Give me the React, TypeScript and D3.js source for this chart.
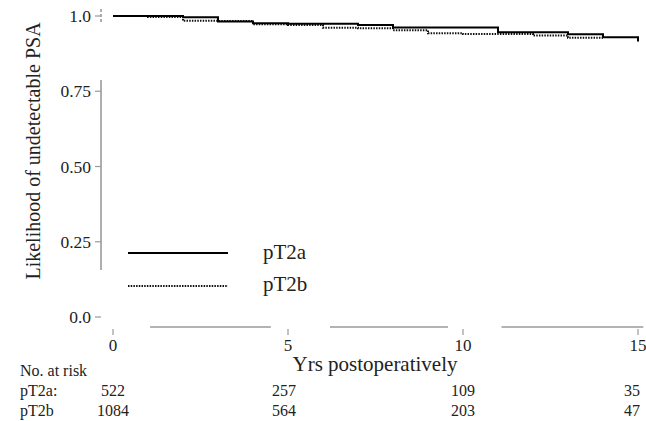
import React from "react";
import * as d3 from "d3";

// Kaplan-Meier style step data (years, likelihood)
const pT2aTimes = [0, 2, 3, 4, 5, 7, 8, 11, 13, 14, 15];
const pT2aValues = [1.0, 0.996, 0.982, 0.976, 0.974, 0.97, 0.962, 0.946, 0.939, 0.929, 0.915];
const pT2bTimes = [0, 1, 2, 3, 4, 5, 6, 7, 8, 9, 10, 12, 13, 14];
const pT2bValues = [1.0, 0.997, 0.984, 0.983, 0.973, 0.97, 0.961, 0.959, 0.953, 0.943, 0.94, 0.935, 0.928, 0.928];

const xTicks = [0, 5, 10, 15];
const yTicks = [0.0, 0.25, 0.5, 0.75, 1.0];
const yTickLabels = ["0.0", "0.25", "0.50", "0.75", "1.0"];

const seriesNames = ["pT2a", "pT2b"];
const riskRowLabels = ["pT2a:", "pT2b"];
const riskT2a = [522, 257, 109, 35];
const riskT2b = [1084, 564, 203, 47];

// broken (scanned) axis segments, in data units
const xAxisSegments: [number, number][] = [[1.06, 4.51], [6.2, 9.57], [11.1, 15.15]];
const yAxisSegments: [number, number][] = [[0.156, 0.787], [0.98, 1.03]];

const W = 646;
const H = 421;
const FONT = '"Liberation Serif", "DejaVu Serif", serif';
const ts = { fontFamily: FONT };

export default function App() {
  const x = d3.scaleLinear().domain([0, 15]).range([113, 638]);
  const y = d3.scaleLinear().domain([0, 1]).range([317, 16]);

  const line = d3
    .line<[number, number]>()
    .x((d) => x(d[0]))
    .y((d) => y(d[1]))
    .curve(d3.curveStepAfter);

  const a: [number, number][] = pT2aTimes.map((t, i) => [t, pT2aValues[i]]);
  const b: [number, number][] = pT2bTimes.map((t, i) => [t, pT2bValues[i]]);

  const axisColor = "#9a9a9a";
  const axisX = 101;
  const axisY = 327;

  return (
    <svg
      width={W}
      height={H}
      style={{ position: "absolute", left: 0, top: 0, background: "#fff", fontFamily: FONT }}
    >
      <rect x={0} y={0} width={W} height={H} fill="#fff" />
      {/* y axis */}
      {yAxisSegments.map(([v0, v1], i) => (
        <line
          key={"ys" + i}
          x1={axisX}
          x2={axisX}
          y1={y(v0)}
          y2={y(v1)}
          stroke={axisColor}
          strokeWidth={1.6}
          strokeDasharray={i === 1 ? "3,2" : undefined}
        />
      ))}
      {yTicks.map((t, i) => (
        <g key={"yt" + i}>
          <line x1={axisX - 6} x2={axisX} y1={y(t)} y2={y(t)} stroke={axisColor} strokeWidth={1.2} />
          <text x={91} y={y(t)} dy="0.35em" textAnchor="end" fontSize={17.5} fill="#222" style={ts}>
            {yTickLabels[i]}
          </text>
        </g>
      ))}
      {/* x axis */}
      {xAxisSegments.map(([v0, v1], i) => (
        <line
          key={"xs" + i}
          x1={x(v0)}
          x2={x(v1)}
          y1={axisY}
          y2={axisY}
          stroke={axisColor}
          strokeWidth={1.6}
        />
      ))}
      {xTicks.map((t, i) => (
        <g key={"xt" + i}>
          <line x1={x(t)} x2={x(t)} y1={axisY + 2} y2={axisY + 8} stroke={axisColor} strokeWidth={1.2} />
          <text x={x(t)} y={351} textAnchor="middle" fontSize={17} fill="#222" style={ts}>
            {t}
          </text>
        </g>
      ))}
      {/* curves */}
      <path d={line(b) || ""} fill="none" stroke="#111" strokeWidth={2} strokeDasharray="1.5,1.2" />
      <path d={line(a) || ""} fill="none" stroke="#000" strokeWidth={2} />
      {/* legend */}
      <line x1={128} x2={228} y1={253} y2={253} stroke="#000" strokeWidth={2} />
      <text x={263} y={259} fontSize={21} fill="#222" style={ts}>
        {seriesNames[0]}
      </text>
      <line x1={128} x2={228} y1={286} y2={286} stroke="#111" strokeWidth={2} strokeDasharray="1.5,1.2" />
      <text x={263} y={291} fontSize={21} fill="#222" style={ts}>
        {seriesNames[1]}
      </text>
      {/* axis titles */}
      <text
        transform="translate(40,151) rotate(-90)"
        textAnchor="middle"
        fontSize={20}
        fill="#222"
        style={ts}
      >
        Likelihood of undetectable PSA
      </text>
      <text x={375} y={371} textAnchor="middle" fontSize={21} fill="#222" style={ts}>
        Yrs postoperatively
      </text>
      {/* risk table */}
      <text x={20} y={376} fontSize={16} fill="#222" style={ts}>
        No. at risk
      </text>
      <text x={20} y={396} fontSize={16} fill="#222" style={ts}>
        {riskRowLabels[0]}
      </text>
      <text x={20} y={416} fontSize={16} fill="#222" style={ts}>
        {riskRowLabels[1]}
      </text>
      {xTicks.map((t, i) => (
        <g key={"rk" + i}>
          <text x={x(t) - (i === 3 ? 6 : i === 1 ? 4 : 0)} y={396} textAnchor="middle" fontSize={16} fill="#222" style={ts}>
            {riskT2a[i]}
          </text>
          <text x={x(t) - (i === 3 ? 6 : i === 1 ? 4 : 0)} y={416} textAnchor="middle" fontSize={16} fill="#222" style={ts}>
            {riskT2b[i]}
          </text>
        </g>
      ))}
    </svg>
  );
}
